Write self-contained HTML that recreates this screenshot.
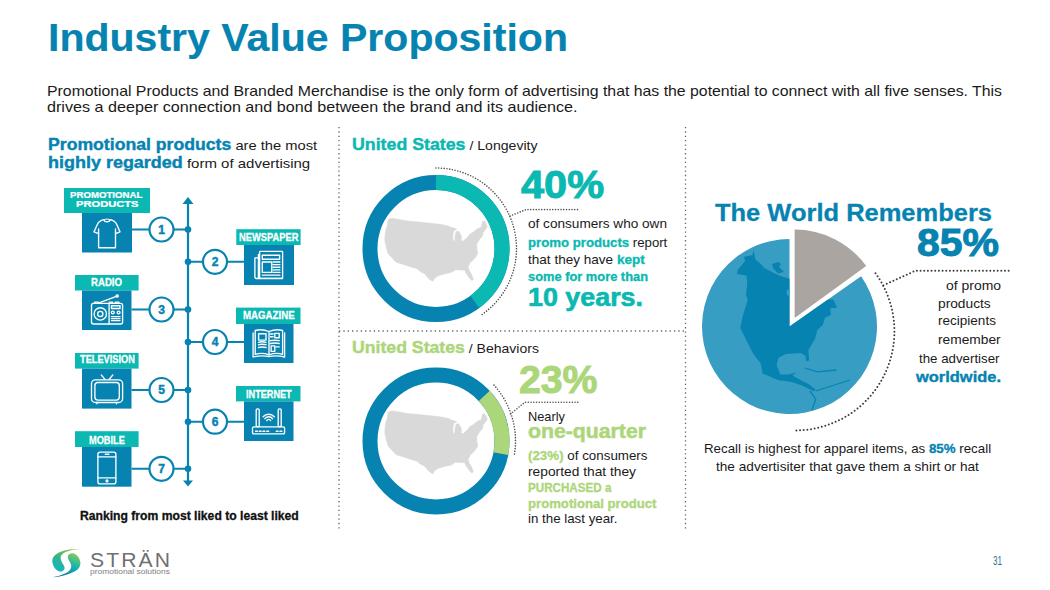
<!DOCTYPE html><html><head><meta charset="utf-8"><style>
*{margin:0;padding:0;box-sizing:border-box}
html,body{width:1050px;height:590px;overflow:hidden;background:#fff}
body{position:relative;font-family:"Liberation Sans",sans-serif}
.t{position:absolute;white-space:nowrap;line-height:1;transform-origin:0 0}
svg.bg{position:absolute;left:0;top:0}
</style></head><body>
<svg class="bg" width="1050" height="590" viewBox="0 0 1050 590">
<g stroke="#666" stroke-width="1.3" stroke-dasharray="1.3 3.05" fill="none">
<line x1="339" y1="127" x2="339" y2="531"/>
<line x1="685.5" y1="127" x2="685.5" y2="531"/>
<line x1="339" y1="331" x2="685.5" y2="331"/>
</g>
<g stroke="#0783b1" stroke-width="2.2" fill="none">
<line x1="188" y1="202" x2="188" y2="482"/>
</g>
<path d="M188 197 L193.5 204 L182.5 204 Z" fill="#0783b1"/>
<path d="M188 486.5 L193 480.5 L183 480.5 Z" fill="#0783b1"/>
<line x1="132" y1="229.5" x2="188" y2="229.5" stroke="#0783b1" stroke-width="2"/>
<circle cx="188" cy="229.5" r="3.3" fill="#0783b1"/>
<circle cx="161.5" cy="229.5" r="12" fill="#fff" stroke="#0783b1" stroke-width="2.2"/>
<text x="161.5" y="233.8" text-anchor="middle" font-family="Liberation Sans" font-weight="700" font-size="12" fill="#0783b1" stroke="#0783b1" stroke-width="0.45">1</text>
<rect x="64" y="188" width="86.0" height="25.0" fill="#0bb8b2"/>
<rect x="82" y="213" width="50.0" height="39.5" fill="#0783b1"/>
<line x1="188" y1="261.8" x2="244" y2="261.8" stroke="#0783b1" stroke-width="2"/>
<circle cx="188" cy="261.8" r="3.3" fill="#0783b1"/>
<circle cx="215" cy="261.8" r="12" fill="#fff" stroke="#0783b1" stroke-width="2.2"/>
<text x="215" y="266.1" text-anchor="middle" font-family="Liberation Sans" font-weight="700" font-size="12" fill="#0783b1" stroke="#0783b1" stroke-width="0.45">2</text>
<rect x="236.3" y="229.2" width="64.3" height="15.8" fill="#0bb8b2"/>
<rect x="244" y="245" width="50.0" height="40.0" fill="#0783b1"/>
<line x1="131.5" y1="309.5" x2="188" y2="309.5" stroke="#0783b1" stroke-width="2"/>
<circle cx="188" cy="309.5" r="3.3" fill="#0783b1"/>
<circle cx="161.5" cy="309.5" r="12" fill="#fff" stroke="#0783b1" stroke-width="2.2"/>
<text x="161.5" y="313.8" text-anchor="middle" font-family="Liberation Sans" font-weight="700" font-size="12" fill="#0783b1" stroke="#0783b1" stroke-width="0.45">3</text>
<rect x="75" y="275" width="63.6" height="15.5" fill="#0bb8b2"/>
<rect x="82" y="290.5" width="49.5" height="39.5" fill="#0783b1"/>
<line x1="188" y1="342" x2="244" y2="342" stroke="#0783b1" stroke-width="2"/>
<circle cx="188" cy="342" r="3.3" fill="#0783b1"/>
<circle cx="215" cy="342" r="12" fill="#fff" stroke="#0783b1" stroke-width="2.2"/>
<text x="215" y="346.3" text-anchor="middle" font-family="Liberation Sans" font-weight="700" font-size="12" fill="#0783b1" stroke="#0783b1" stroke-width="0.45">4</text>
<rect x="236" y="307.6" width="64.5" height="16.4" fill="#0bb8b2"/>
<rect x="244" y="324" width="49.5" height="39.0" fill="#0783b1"/>
<line x1="131.5" y1="390" x2="188" y2="390" stroke="#0783b1" stroke-width="2"/>
<circle cx="188" cy="390" r="3.3" fill="#0783b1"/>
<circle cx="161.5" cy="390" r="12" fill="#fff" stroke="#0783b1" stroke-width="2.2"/>
<text x="161.5" y="394.3" text-anchor="middle" font-family="Liberation Sans" font-weight="700" font-size="12" fill="#0783b1" stroke="#0783b1" stroke-width="0.45">5</text>
<rect x="75" y="353" width="63.6" height="15.6" fill="#0bb8b2"/>
<rect x="82" y="368.6" width="49.5" height="40.0" fill="#0783b1"/>
<line x1="188" y1="421.7" x2="244" y2="421.7" stroke="#0783b1" stroke-width="2"/>
<circle cx="188" cy="421.7" r="3.3" fill="#0783b1"/>
<circle cx="215" cy="421.7" r="12" fill="#fff" stroke="#0783b1" stroke-width="2.2"/>
<text x="215" y="426.0" text-anchor="middle" font-family="Liberation Sans" font-weight="700" font-size="12" fill="#0783b1" stroke="#0783b1" stroke-width="0.45">6</text>
<rect x="236" y="386" width="64.5" height="15.4" fill="#0bb8b2"/>
<rect x="244" y="401.4" width="49.5" height="39.6" fill="#0783b1"/>
<line x1="131.5" y1="468.8" x2="188" y2="468.8" stroke="#0783b1" stroke-width="2"/>
<circle cx="188" cy="468.8" r="3.3" fill="#0783b1"/>
<circle cx="161.5" cy="468.8" r="12" fill="#fff" stroke="#0783b1" stroke-width="2.2"/>
<text x="161.5" y="473.1" text-anchor="middle" font-family="Liberation Sans" font-weight="700" font-size="12" fill="#0783b1" stroke="#0783b1" stroke-width="0.45">7</text>
<rect x="75" y="431.2" width="63.6" height="15.8" fill="#0bb8b2"/>
<rect x="82" y="447" width="49.5" height="39.7" fill="#0783b1"/>
<g transform="translate(82,212.5)" fill="none" stroke="#fff" stroke-width="1.35" stroke-linejoin="round" stroke-linecap="round"><path d="M21.7 7.2 C18.2 8 16.3 9.6 15.1 12.4 L12 19.3 L16.6 21.1 V35.2 H33.5 V21.1 L38 19.3 L34.9 12.4 C33.7 9.6 31.8 8 28.3 7.2 C27.2 10 22.8 10 21.7 7.2 Z"/><path d="M21.8 7.3 C22.5 6.2 27.5 6.2 28.2 7.3" stroke-width="1"/><line x1="16.6" y1="16.5" x2="16.6" y2="21"/><line x1="33.5" y1="16.5" x2="33.5" y2="21"/></g>
<g transform="translate(244,245)" fill="none" stroke="#fff" stroke-width="1.35" stroke-linejoin="round" stroke-linecap="round"><rect x="15.6" y="6.4" width="23" height="27" rx="0.8"/><path d="M15.6 9.5 L14.4 9.5 L14.4 33.5 M14.4 12.9 L10.9 12.9 L10.9 32 Q10.9 33.5 12.4 33.5 L38.6 33.5"/><rect x="18.3" y="10.2" width="17.3" height="4"/><rect x="18.3" y="17" width="9.5" height="10.4"/><path d="M29.1 17 H35.9 M29.1 19.6 H35.9 M29.1 22.2 H35.9 M29.1 24.8 H35.9 M29.1 27.4 H35.9 M18.3 30.1 H35.9"/></g>
<g transform="translate(82,290.5)" fill="none" stroke="#fff" stroke-width="1.35" stroke-linejoin="round" stroke-linecap="round"><rect x="9.5" y="12.9" width="31.1" height="20.6" rx="2"/><line x1="27.1" y1="12.9" x2="27.1" y2="33.5"/><circle cx="18.3" cy="23.4" r="6.2"/><circle cx="18.3" cy="23.4" r="2.6"/><rect x="29.5" y="15.2" width="8.5" height="2.8"/><circle cx="30.8" cy="22" r="1.4"/><circle cx="36.6" cy="22" r="1.4"/><path d="M29.5 26.1 H38 M29.5 28.1 H38 M29.5 30.1 H38"/><line x1="17.6" y1="12.2" x2="34.4" y2="5.8"/><circle cx="35.2" cy="5.4" r="1.1" fill="#fff"/><path d="M12.5 12.9 V11.6 H16.3 V12.9 M27.4 12.9 V11.6 H30.5 V12.9 M33.2 12.9 V11.6 H36.9 V12.9"/></g>
<g transform="translate(244,323.5)" fill="none" stroke="#fff" stroke-width="1.35" stroke-linejoin="round" stroke-linecap="round"><path d="M9.1 9.5 V33.5 Q17 31.5 25 33 Q33 31.5 40.6 33.5 V9.5"/><path d="M11.2 7 Q18 5 25 8 V31.3 Q18 28.8 11.2 30.8 Z M25 8 Q32 5 38.6 7 V30.8 Q32 28.8 25 31.3"/><rect x="14.6" y="10.2" width="7.4" height="6.4"/><path d="M14.6 18.8 Q18.3 17.8 22 18.8 M14.6 21.2 Q18.3 20.2 22 21.2 M14.6 24 Q18.3 23 22 24 M26.4 10.5 H29.1 M26.4 13.2 H29.1 M26.4 17.2 Q30.8 16.2 35.2 17.2 M26.4 20 Q30.8 19 35.2 20 M31.8 23.4 H35.2"/><rect x="30.8" y="9.8" width="4.4" height="4.4"/><rect x="27.1" y="22.4" width="3.7" height="5.4"/></g>
<g transform="translate(82,368.6)" fill="none" stroke="#fff" stroke-width="1.35" stroke-linejoin="round" stroke-linecap="round"><rect x="9.5" y="11.2" width="31.1" height="22.7" rx="3.8"/><rect x="12.9" y="13.9" width="24.4" height="17.6" rx="3"/><path d="M19.3 6.4 L23 10.8 M30.8 6.4 L27.1 10.8 M14.9 33.9 V35.2 M34.5 33.9 V35.2"/></g>
<g transform="translate(244,401.4)" fill="none" stroke="#fff" stroke-width="1.35" stroke-linejoin="round" stroke-linecap="round"><rect x="8.5" y="25.4" width="32.1" height="7.1" rx="1.5"/><rect x="12.2" y="7.5" width="3" height="17.9" rx="1.2"/><rect x="34.2" y="7.5" width="3" height="17.9" rx="1.2"/><path d="M19.1 15.4 A7.4 7.4 0 0 1 30.3 15.4 M20.9 17.3 A4.7 4.7 0 0 1 28.5 17.3 M22.7 19.2 A2.3 2.3 0 0 1 26.7 19.2"/><path d="M11.6 29.8 H13.4 M15.3 29.8 H17.1 M19 29.8 H20.8 M22.8 29.8 H24.6 M32.3 29.8 H34.1 M36 29.8 H37.8" stroke-width="1.5"/></g>
<g transform="translate(82,447)" fill="none" stroke="#fff" stroke-width="1.35" stroke-linejoin="round" stroke-linecap="round"><rect x="15.9" y="5.1" width="18" height="31.8" rx="2.2"/><path d="M15.9 9.8 H33.9 M15.9 30.8 H33.9 M23.3 7.2 H26.9"/><circle cx="25" cy="33.9" r="0.9" fill="#fff"/></g>
<circle cx="436" cy="248.5" r="66" fill="none" stroke="#0783b1" stroke-width="15"/>
<path d="M436.00 182.50 A66 66 0 0 1 474.79 301.90" fill="none" stroke="#0bb8b2" stroke-width="15"/>
<path d="M436.00 168.00 A80.5 80.5 0 0 1 481.02 315.24" fill="none" stroke="#505050" stroke-width="1.6" stroke-linecap="round" stroke-dasharray="0 2.75"/>
<polygon points="388.4,219.5 389.5,218.8 392.9,218.4 407.1,220.9 420.7,222.2 439.7,224.3 445.0,225.2 449.1,226.2 451.1,227.5 454.5,228.2 456.9,229.2 453.8,230.6 452.8,235.3 453.1,240.7 454.8,241.1 455.2,235.3 456.2,231.6 458.6,231.3 460.6,234.6 461.6,237.4 460.9,240.7 463.3,241.1 468.0,236.7 469.4,234.6 473.5,231.9 476.8,229.2 481.6,226.9 482.3,221.8 484.3,221.1 486.0,223.8 487.3,226.9 485.0,229.9 482.9,232.6 482.9,235.3 479.6,239.4 478.2,241.4 476.8,244.1 476.8,248.9 477.8,253.8 474.4,258.6 470.3,262.6 468.0,266.7 469.3,270.8 471.7,274.8 473.4,279.6 471.7,280.6 469.0,277.5 466.3,273.5 464.6,270.1 460.8,270.1 455.4,269.7 452.0,272.1 450.0,272.8 446.0,273.5 440.0,275.2 437.0,276.5 434.3,278.5 432.9,281.3 430.2,279.9 427.5,277.2 424.8,273.8 420.7,271.8 416.6,268.4 411.2,267.0 403.1,264.3 396.3,262.3 393.6,259.5 388.1,253.4 386.1,246.6 384.8,239.9 385.4,231.7 387.5,224.9 388.1,220.2" fill="#d9d9d9" stroke="#d9d9d9" stroke-width="0.6" stroke-linejoin="round"/>
<circle cx="436" cy="441" r="66" fill="none" stroke="#0783b1" stroke-width="15"/>
<path d="M484.27 395.99 A66 66 0 0 1 500.79 453.59" fill="none" stroke="#acd67a" stroke-width="15"/>
<path d="M494.05 385.13 A83.5 83.5 0 0 1 514.23 455.50" fill="none" stroke="#505050" stroke-width="1.6" stroke-linecap="round" stroke-dasharray="0 2.75"/>
<polygon points="388.4,412.0 389.5,411.3 392.9,410.9 407.1,413.4 420.7,414.7 439.7,416.8 445.0,417.7 449.1,418.7 451.1,420.0 454.5,420.7 456.9,421.7 453.8,423.1 452.8,427.8 453.1,433.2 454.8,433.6 455.2,427.8 456.2,424.1 458.6,423.8 460.6,427.1 461.6,429.9 460.9,433.2 463.3,433.6 468.0,429.2 469.4,427.1 473.5,424.4 476.8,421.7 481.6,419.4 482.3,414.3 484.3,413.6 486.0,416.3 487.3,419.4 485.0,422.4 482.9,425.1 482.9,427.8 479.6,431.9 478.2,433.9 476.8,436.6 476.8,441.4 477.8,446.3 474.4,451.1 470.3,455.1 468.0,459.2 469.3,463.3 471.7,467.3 473.4,472.1 471.7,473.1 469.0,470.0 466.3,466.0 464.6,462.6 460.8,462.6 455.4,462.2 452.0,464.6 450.0,465.3 446.0,466.0 440.0,467.7 437.0,469.0 434.3,471.0 432.9,473.8 430.2,472.4 427.5,469.7 424.8,466.3 420.7,464.3 416.6,460.9 411.2,459.5 403.1,456.8 396.3,454.8 393.6,452.0 388.1,445.9 386.1,439.1 384.8,432.4 385.4,424.2 387.5,417.4 388.1,412.7" fill="#d9d9d9" stroke="#d9d9d9" stroke-width="0.6" stroke-linejoin="round"/>
<path d="M510 216 L526 209.6 L580 209.6" fill="none" stroke="#505050" stroke-width="1.6" stroke-linecap="round" stroke-dasharray="0 2.75"/>
<path d="M510.5 414 L525 402.2 L578 402.2" fill="none" stroke="#505050" stroke-width="1.6" stroke-linecap="round" stroke-dasharray="0 2.75"/>
<defs><clipPath id="pie"><path d="M789.5 326.5 L861.09 276.19 A87.5 87.5 0 1 1 789.5 239.0 Z"/></clipPath></defs>
<path d="M789.5 326.5 L861.09 276.19 A87.5 87.5 0 1 1 789.5 239.0 Z" fill="#389dc2"/>
<g clip-path="url(#pie)"><polygon points="753.7,249.7 755.3,259.2 760.8,264 764.4,268.1 773.9,272.9 779.8,275.8 789.3,278.8 800,270 823.9,299.5 833.3,299.5 837.1,307.6 830,308.6 831,314.7 824.9,317.8 822.8,324.9 817.6,329.8 814.8,339.2 808.3,350.3 809.2,360.6 806.4,361.5 805.5,355.9 800.8,353.1 785.9,354 778.5,357.8 776.6,365.3 780.3,374.6 787.8,374.6 796.2,372.7 792.5,375.5 797.1,378.3 808.3,383.9 815.8,389.5 813.9,391.3 802.7,385.8 791.5,382 778.5,380.2 762.6,373.6 760.8,363.4 753.3,354 746.8,341 740.3,328 743,314.9 747.7,300 746,294.8 747.2,283 746.6,275.8 737.1,274 737.7,270 745.4,260.4 743.6,256.9 752.5,255" fill="#0783b1"/>
<ellipse cx="789.3" cy="292.5" rx="2.6" ry="3.2" fill="#389dc2"/>
<path d="M772 264 L778 262 L781 264 L779 267 L784 272 L778 273.5 L773 268 Z" fill="#0783b1"/>
<path d="M804.6 368 L817.6 371.8 L836.3 370 M810 391 L815.8 399 L812 410 M815.8 391 L850 380" fill="none" stroke="#0783b1" stroke-width="1.3"/></g>
<path d="M794.6 318 L794.6 229.5 A88.5 88.5 0 0 1 866.20 265.98 Z" fill="#aaa5a1"/>
<path d="M875.49 273.21 A99 99 0 0 1 795.40 430.40" fill="none" stroke="#3c3c3c" stroke-width="2" stroke-linecap="round" stroke-dasharray="0 3.67"/>
<path d="M883.4 285.4 L915.4 270.7 L1011 270.7" fill="none" stroke="#3c3c3c" stroke-width="2" stroke-linecap="round" stroke-dasharray="0 3.67"/>
<defs><linearGradient id="lg" gradientUnits="userSpaceOnUse" x1="70" y1="549" x2="58" y2="572"><stop offset="0" stop-color="#8dc63f"/><stop offset="0.5" stop-color="#2fb58a"/><stop offset="1" stop-color="#12b5c9"/></linearGradient><linearGradient id="lg2" gradientUnits="userSpaceOnUse" x1="72" y1="553" x2="62" y2="577"><stop offset="0" stop-color="#7fcb5a"/><stop offset="0.45" stop-color="#14b3b4"/><stop offset="1" stop-color="#1676ae"/></linearGradient></defs>
<path d="M82.6 549.1 C74 549 66 549.5 60 552 C54 554.5 51.5 558.5 52.5 563 C53.5 567 56 570.5 59.5 571.6 C62.5 572.2 65 570 64.6 567.6 C64.2 565 61 562 60.6 558.5 C60.3 555.2 63 552.6 68 551.2 C72 550 77 549.4 82.6 549.1 Z" fill="url(#lg)"/><path d="M52.5 577.2 C60 577 68 574.5 74.5 571.5 C79.5 569 81 565 80.2 561.5 C79.5 557.5 77 554.5 74 553.4 C71 552.6 68.4 554 67.8 556.3 C67.3 558.5 70 561.5 71 564.5 C72 568 70 571 65.5 573.3 C61.5 575.3 57 576.5 52.5 577.2 Z" fill="url(#lg2)"/>
</svg>
<div class="t" id="t0" style="font-size:38.5px;font-weight:700;color:#0783b1;-webkit-text-stroke:0.004em #0783b1;left:47.5px;top:18.50px;transform:scaleX(1.0661);">Industry Value Proposition</div>
<div class="t" id="t1" style="font-size:14.5px;font-weight:400;color:#1a1a1a;left:47.0px;top:84.00px;transform:scaleX(1.0914);">Promotional Products and Branded Merchandise is the only form of advertising that has the potential to connect with all five senses. This</div>
<div class="t" id="t2" style="font-size:14.5px;font-weight:400;color:#1a1a1a;left:47.0px;top:100.30px;transform:scaleX(1.1135);">drives a deeper connection and bond between the brand and its audience.</div>
<div class="t" id="t3" style="font-size:13.5px;font-weight:400;color:#1a1a1a;left:47.8px;top:135.60px;transform:scaleX(1.0899);"><span style="font-weight:700;color:#0783b1;-webkit-text-stroke:0.025em #0783b1;font-size:16.2px">Promotional products</span> are the most</div>
<div class="t" id="t4" style="font-size:13.5px;font-weight:400;color:#1a1a1a;left:47.8px;top:154.20px;transform:scaleX(1.1099);"><span style="font-weight:700;color:#0783b1;-webkit-text-stroke:0.025em #0783b1;font-size:16.2px">highly regarded</span> form of advertising</div>
<div class="t" id="t5" style="font-size:9.8px;font-weight:700;color:#fff;-webkit-text-stroke:0.025em #fff;left:70.3px;top:190.00px;transform:scaleX(0.9839);">PROMOTIONAL</div>
<div class="t" id="t6" style="font-size:9.8px;font-weight:700;color:#fff;-webkit-text-stroke:0.025em #fff;left:75.5px;top:199.40px;transform:scaleX(1.1367);">PRODUCTS</div>
<div class="t" id="t7" style="font-size:10.6px;font-weight:700;color:#fff;-webkit-text-stroke:0.025em #fff;left:238.6px;top:231.60px;transform:scaleX(0.8830);">NEWSPAPER</div>
<div class="t" id="t8" style="font-size:10.6px;font-weight:700;color:#fff;-webkit-text-stroke:0.025em #fff;left:91.4px;top:276.70px;transform:scaleX(0.9080);">RADIO</div>
<div class="t" id="t9" style="font-size:10.6px;font-weight:700;color:#fff;-webkit-text-stroke:0.025em #fff;left:242.9px;top:310.00px;transform:scaleX(0.9133);">MAGAZINE</div>
<div class="t" id="t10" style="font-size:10.6px;font-weight:700;color:#fff;-webkit-text-stroke:0.025em #fff;left:79.5px;top:354.30px;transform:scaleX(0.8701);">TELEVISION</div>
<div class="t" id="t11" style="font-size:10.6px;font-weight:700;color:#fff;-webkit-text-stroke:0.025em #fff;left:245.7px;top:388.90px;transform:scaleX(0.8628);">INTERNET</div>
<div class="t" id="t12" style="font-size:10.6px;font-weight:700;color:#fff;-webkit-text-stroke:0.025em #fff;left:89.0px;top:434.80px;transform:scaleX(0.8689);">MOBILE</div>
<div class="t" id="t13" style="font-size:12px;font-weight:700;color:#111;-webkit-text-stroke:0.025em #111;left:80.2px;top:509.50px;transform:scaleX(1.0127);">Ranking from most liked to least liked</div>
<div class="t" id="t14" style="font-size:13.5px;font-weight:400;color:#1a1a1a;left:352.4px;top:136.00px;transform:scaleX(1.0445);"><span style="font-weight:700;color:#0bb8b2;-webkit-text-stroke:0.025em #0bb8b2;font-size:17px">United States</span> / Longevity</div>
<div class="t" id="t15" style="font-size:39px;font-weight:700;color:#0bb8b2;-webkit-text-stroke:0.025em #0bb8b2;left:521.0px;top:165.00px;transform:scaleX(1.0633);">40%</div>
<div class="t" id="t16" style="font-size:13.5px;font-weight:400;color:#1a1a1a;left:528.0px;top:217.30px;transform:scaleX(1.0067);">of consumers who own</div>
<div class="t" id="t17" style="font-size:13.5px;font-weight:400;color:#1a1a1a;left:528.0px;top:235.50px;transform:scaleX(0.9773);"><span style="font-weight:700;color:#0bb8b2;-webkit-text-stroke:0.025em #0bb8b2">promo products</span> report</div>
<div class="t" id="t18" style="font-size:13.5px;font-weight:400;color:#1a1a1a;left:528.0px;top:252.70px;transform:scaleX(1.0041);">that they have <span style="font-weight:700;color:#0bb8b2;-webkit-text-stroke:0.025em #0bb8b2">kept</span></div>
<div class="t" id="t19" style="font-size:13.5px;font-weight:700;color:#0bb8b2;-webkit-text-stroke:0.025em #0bb8b2;left:528.0px;top:270.00px;transform:scaleX(0.9521);">some for more than</div>
<div class="t" id="t20" style="font-size:25.4px;font-weight:700;color:#0bb8b2;-webkit-text-stroke:0.025em #0bb8b2;left:528.0px;top:284.50px;transform:scaleX(1.0578);">10 years.</div>
<div class="t" id="t21" style="font-size:13.5px;font-weight:400;color:#1a1a1a;left:352.0px;top:338.60px;transform:scaleX(1.0392);"><span style="font-weight:700;color:#acd67a;-webkit-text-stroke:0.025em #acd67a;font-size:17px">United States</span> / Behaviors</div>
<div class="t" id="t22" style="font-size:39px;font-weight:700;color:#acd67a;-webkit-text-stroke:0.025em #acd67a;left:519.0px;top:359.50px;transform:scaleX(1.0056);">23%</div>
<div class="t" id="t23" style="font-size:13.5px;font-weight:400;color:#1a1a1a;left:528.0px;top:410.00px;transform:scaleX(0.9483);">Nearly</div>
<div class="t" id="t24" style="font-size:20px;font-weight:700;color:#acd67a;-webkit-text-stroke:0.025em #acd67a;left:528.0px;top:420.60px;transform:scaleX(1.0619);">one-quarter</div>
<div class="t" id="t25" style="font-size:13.5px;font-weight:400;color:#1a1a1a;left:528.0px;top:448.50px;transform:scaleX(0.9891);"><span style="font-weight:700;color:#acd67a;-webkit-text-stroke:0.025em #acd67a">(23%)</span> of consumers</div>
<div class="t" id="t26" style="font-size:13.5px;font-weight:400;color:#1a1a1a;left:528.0px;top:464.60px;transform:scaleX(1.0205);">reported that they</div>
<div class="t" id="t27" style="font-size:13px;font-weight:700;color:#acd67a;-webkit-text-stroke:0.025em #acd67a;left:528.0px;top:481.40px;transform:scaleX(0.8950);">PURCHASED a</div>
<div class="t" id="t28" style="font-size:13px;font-weight:700;color:#acd67a;-webkit-text-stroke:0.025em #acd67a;left:528.0px;top:496.80px;transform:scaleX(1.0109);">promotional product</div>
<div class="t" id="t29" style="font-size:13.5px;font-weight:400;color:#1a1a1a;left:528.0px;top:512.00px;transform:scaleX(0.9855);">in the last year.</div>
<div class="t" id="t30" style="font-size:23px;font-weight:700;color:#0783b1;-webkit-text-stroke:0.012em #0783b1;left:715.0px;top:202.30px;transform:scaleX(1.1076);">The World Remembers</div>
<div class="t" id="t31" style="font-size:39px;font-weight:700;color:#0783b1;-webkit-text-stroke:0.025em #0783b1;left:917.0px;top:222.50px;transform:scaleX(1.0504);">85%</div>
<div class="t" id="t32" style="font-size:13.5px;font-weight:400;color:#1a1a1a;left:946.0px;top:278.70px;transform:scaleX(1.0323);">of promo</div>
<div class="t" id="t33" style="font-size:13.5px;font-weight:400;color:#1a1a1a;left:937.7px;top:296.50px;transform:scaleX(1.0177);">products</div>
<div class="t" id="t34" style="font-size:13.5px;font-weight:400;color:#1a1a1a;left:937.7px;top:314.30px;transform:scaleX(1.0021);">recipients</div>
<div class="t" id="t35" style="font-size:13.5px;font-weight:400;color:#1a1a1a;left:937.7px;top:332.60px;transform:scaleX(1.0193);">remember</div>
<div class="t" id="t36" style="font-size:13.5px;font-weight:400;color:#1a1a1a;left:918.5px;top:351.60px;transform:scaleX(0.9841);">the advertiser</div>
<div class="t" id="t37" style="font-size:15px;font-weight:700;color:#0783b1;-webkit-text-stroke:0.025em #0783b1;left:915.6px;top:368.60px;transform:scaleX(1.0966);">worldwide.</div>
<div class="t" id="t38" style="font-size:12.8px;font-weight:400;color:#1a1a1a;left:704.3px;top:443.40px;transform:scaleX(1.0402);">Recall is highest for apparel items, as <span style="font-weight:700;color:#0783b1;-webkit-text-stroke:0.025em #0783b1">85%</span> recall</div>
<div class="t" id="t39" style="font-size:12.8px;font-weight:400;color:#1a1a1a;left:715.7px;top:460.60px;transform:scaleX(1.0651);">the advertisiter that gave them a shirt or hat</div>
<div class="t" id="t40" style="font-size:12.4px;font-weight:400;color:#1f7394;left:993.3px;top:554.80px;transform:scaleX(0.6523);">31</div>
<div class="t" id="t41" style="font-size:20.5px;font-weight:400;color:#707070;letter-spacing:2px;left:89.5px;top:549.60px;transform:scaleX(1.0316);">STR&Auml;N</div>
<div class="t" id="t42" style="font-size:7.8px;font-weight:400;color:#808080;left:89.5px;top:568.30px;transform:scaleX(1.0843);">promotional solutions</div>
</body></html>
